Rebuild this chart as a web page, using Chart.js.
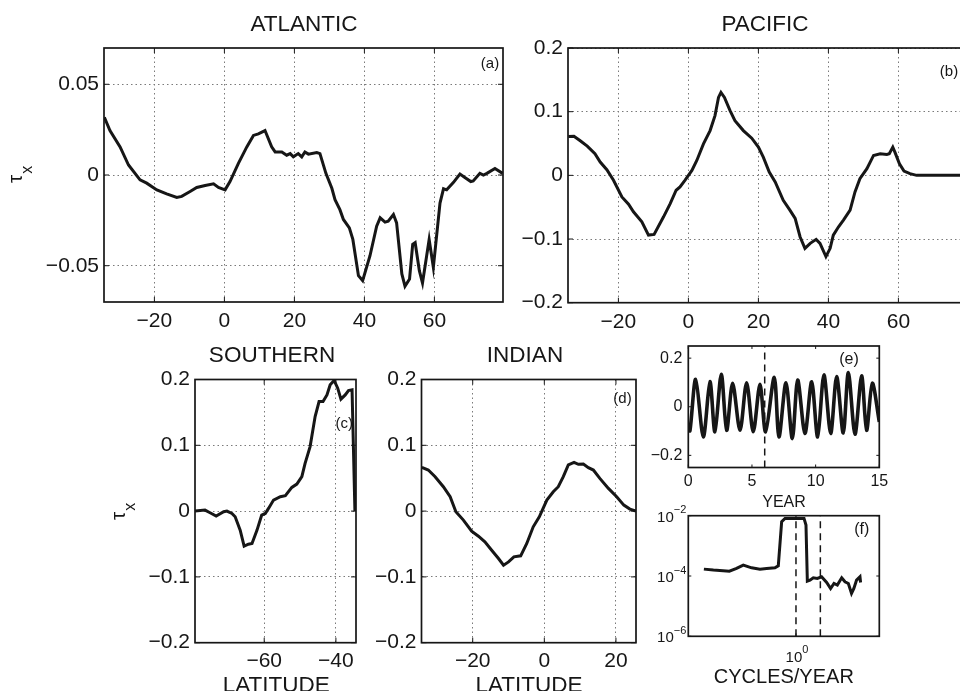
<!DOCTYPE html>
<html>
<head>
<meta charset="utf-8">
<script src="https://cdn.jsdelivr.net/npm/chart.js@4.4.1/dist/chart.umd.min.js"></script>
<style>
  html, body { margin: 0; padding: 0; background: #fff; width: 960px; height: 691px; overflow: hidden; }
  canvas { position: absolute; left: 0; top: 0; }
</style>
</head>
<body>
<canvas id="pa" width="960" height="691"></canvas>
<canvas id="pb" width="1000" height="691"></canvas>
<canvas id="pc" width="960" height="691"></canvas>
<canvas id="pd" width="960" height="691"></canvas>
<canvas id="pe" width="960" height="691"></canvas>
<canvas id="pf" width="960" height="691"></canvas>
<script>
// (a) Atlantic zonal wind stress vs latitude
const atlLat = [-34.3, -32.7, -29.8, -27.4, -24.1, -22.2, -19.3, -16.5, -13.6, -12.2,
  -9.8, -7.9, -5.5, -3.1, -1.7, 0.2, 1.6, 4.0, 6.4, 8.3,
  9.7, 11.6, 13.5, 14.5, 16.4, 17.8, 18.8, 19.7, 21.1, 22.1,
  23.0, 24.0, 26.4, 27.3, 29.0, 30.7, 31.6, 33.0, 34.0, 35.7,
  36.7, 38.3, 39.5, 41.6, 43.5, 44.5, 45.9, 46.8, 48.3, 49.2,
  50.7, 51.6, 52.9, 53.8, 54.5, 55.7, 56.6, 58.5, 59.7, 61.6,
  62.6, 63.5, 65.4, 67.3, 68.8, 70.4, 71.1, 73.0, 74.0, 75.0,
  77.3, 79.5];
const atlTau = [0.0318, 0.0245, 0.0155, 0.0055, -0.0027, -0.0045, -0.0082, -0.0104, -0.0124, -0.0118,
  -0.0091, -0.0069, -0.0058, -0.0049, -0.0069, -0.0082, -0.0036, 0.0064, 0.0155, 0.0218,
  0.0227, 0.0245, 0.0155, 0.0127, 0.0127, 0.0109, 0.0118, 0.0100, 0.0118, 0.0100,
  0.0127, 0.0115, 0.0124, 0.0118, 0.0009, -0.0073, -0.0136, -0.0191, -0.0245, -0.0291,
  -0.0355, -0.0555, -0.0582, -0.0445, -0.0282, -0.0236, -0.0260, -0.0255, -0.0218, -0.0264,
  -0.0545, -0.0613, -0.0573, -0.0382, -0.0373, -0.0527, -0.0595, -0.0355, -0.0509, -0.0155,
  -0.0076, -0.0082, -0.0042, 0.0005, -0.0015, -0.0036, -0.0033, 0.0009, 0.0000, 0.0009,
  0.0036, 0.0009];

// (b) Pacific
const pacLat = [-34.3, -32.7, -31.0, -28.9, -26.7, -25.2, -23.3, -21.4, -19.0, -17.1,
  -15.7, -13.3, -11.4, -9.8, -7.1, -5.2, -3.5, -2.4, -1.0, 1.0,
  2.4, 4.3, 6.2, 7.6, 8.6, 9.3, 10.3, 11.9, 13.3, 15.7,
  18.1, 20.0, 21.4, 23.1, 24.8, 27.1, 29.0, 30.5, 31.9, 33.3,
  34.8, 36.5, 37.6, 39.3, 40.5, 41.4, 42.9, 44.3, 46.2, 47.6,
  49.0, 51.0, 52.9, 54.8, 56.7, 57.4, 58.4, 59.0, 60.3, 61.6,
  63.3, 65.2, 79.6];
const pacTau = [0.061, 0.0615, 0.0547, 0.0458, 0.0339, 0.0208, 0.0089, -0.0078, -0.0339, -0.0453,
  -0.0573, -0.0729, -0.0938, -0.0927, -0.0651, -0.0443, -0.0234, -0.0182, -0.0078, 0.0078,
  0.0234, 0.0495, 0.0703, 0.0938, 0.1224, 0.1302, 0.1224, 0.1016, 0.0859, 0.0703,
  0.0583, 0.0443, 0.0286, 0.0052, -0.0104, -0.0391, -0.0547, -0.0677, -0.0964, -0.1146,
  -0.1068, -0.1005, -0.1068, -0.1276, -0.1146, -0.0938, -0.0807, -0.0703, -0.0547, -0.0260,
  -0.0052, 0.0104, 0.0313, 0.0339, 0.0328, 0.0339, 0.0443, 0.0365, 0.0182, 0.0068,
  0.0026, 0.0, 0.0];

// (c) Southern
const souLat = [-79.3, -76.5, -75.1, -73.4, -71.3, -70.4, -69.0, -68.1, -66.7, -65.6,
  -64.4, -63.4, -62.0, -60.7, -59.7, -58.8, -57.4, -55.5, -54.1, -52.3,
  -50.9, -49.5, -48.6, -47.2, -45.8, -44.7, -43.6, -42.5, -41.6, -40.5,
  -39.5, -38.6, -37.4, -36.5, -35.5, -34.7];
const souTau = [0.0, 0.0015, -0.0025, -0.0076, -0.0010, 0.0, -0.0036, -0.0086, -0.0289, -0.0533,
  -0.0503, -0.0492, -0.0289, -0.0061, -0.0036, 0.0041, 0.0168, 0.0218, 0.0234, 0.0360,
  0.0411, 0.0523, 0.0726, 0.0980, 0.1437, 0.1665, 0.1665, 0.1766, 0.1919, 0.1985,
  0.1868, 0.1701, 0.1766, 0.1832, 0.1843, 0.0];

// (d) Indian
const indLat = [-34.2, -32.4, -30.5, -28.2, -26.3, -24.7, -22.6, -20.3, -18.4, -16.6,
  -14.7, -12.8, -11.4, -10.0, -8.5, -6.6, -4.9, -3.1, -1.4, 0.7,
  2.5, 3.9, 5.3, 6.7, 8.3, 9.5, 10.9, 12.3, 13.7, 15.5,
  17.9, 20.2, 22.2, 23.9, 25.6];
const indTau = [0.0665, 0.0624, 0.0523, 0.0371, 0.0218, -0.0010, -0.0137, -0.0305, -0.0381, -0.0467,
  -0.0594, -0.0721, -0.0822, -0.0772, -0.0695, -0.0680, -0.0492, -0.0239, -0.0086, 0.0168,
  0.0294, 0.0371, 0.0523, 0.0701, 0.0741, 0.0711, 0.0716, 0.0660, 0.0624, 0.0497,
  0.0345, 0.0218, 0.0091, 0.0030, 0.0];

// (e) time series
const tsYear = [0, 0.13, 0.58, 1.18, 1.70, 2.09, 2.59, 3.01, 3.48, 4.06,
  4.58, 5.10, 5.63, 6.07, 6.75, 7.12, 7.67, 8.17, 8.59, 9.16,
  9.69, 10.16, 10.65, 11.18, 11.65, 12.17, 12.57, 13.09, 13.61, 14.0,
  14.45, 15.0];
const tsTau = [-0.090, -0.099, 0.113, -0.124, 0.103, -0.103, 0.134, -0.097, 0.097, -0.097,
  0.099, -0.103, 0.092, -0.103, 0.121, -0.124, 0.099, -0.131, 0.110, -0.110,
  0.103, -0.124, 0.131, -0.110, 0.124, -0.108, 0.141, -0.113, 0.127, -0.097,
  0.097, -0.062];
const tsMarkYear = [6];

// (f) spectrum
const specFreq = [0.216, 0.253, 0.330, 0.372, 0.416, 0.478, 0.549, 0.614, 0.705, 0.745,
  0.788, 0.833, 0.957, 1.143, 1.181, 1.208, 1.262, 1.334, 1.426, 1.531,
  1.666, 1.779, 1.882, 1.990, 2.140, 2.260, 2.390, 2.520, 2.620, 2.740,
  2.900, 2.930];
const specPow = [1.69e-4, 1.57e-4, 1.45e-4, 1.78e-4, 2.30e-4, 1.87e-4, 1.69e-4, 1.78e-4, 1.87e-4, 2.18e-4,
  6.32e-3, 8.15e-3, 8.15e-3, 8.15e-3, 4.90e-3, 6.75e-5, 7.29e-5, 8.71e-5, 8.28e-5, 9.40e-5,
  6.10e-5, 3.85e-5, 5.65e-5, 4.98e-5, 8.71e-5, 6.41e-5, 5.65e-5, 2.63e-5, 3.85e-5, 7.29e-5,
  9.40e-5, 6.10e-5];
const specMarks = [1, 1.5];

// tick values
const latTicksAP = [-20, 0, 20, 40, 60];
const latTicksS = [-60, -40];
const latTicksI = [-20, 0, 20];
const tauTicksA = [-0.05, 0, 0.05];
const tauTicksB = [-0.2, -0.1, 0, 0.1, 0.2];
const yearTicks = [0, 5, 10, 15];
const tsTicks = [-0.2, 0, 0.2];
const freqTicks = [1];
const powTicks = [1e-6, 1e-4, 1e-2];

const FONT = "'Liberation Sans', Arial, Helvetica, sans-serif";
const INK = '#161616';

function pts(xs, ys) { return xs.map((x, i) => ({ x: x, y: ys[i] })); }
function fmt(v) { return String(Math.round(v * 1000) / 1000).replace('-', '\u2212'); }
function expo(v) { return String(Math.round(Math.log10(v))).replace('-', '\u2212'); }

function drawText(ctx, it) {
  ctx.save();
  ctx.translate(it.x, it.y);
  if (it.rot) ctx.rotate(it.rot);
  ctx.fillStyle = INK;
  ctx.textBaseline = 'alphabetic';
  ctx.textAlign = 'left';
  const es = it.esize || Math.round(it.size * 0.72);
  ctx.font = it.size + 'px ' + FONT;
  const w1 = ctx.measureText(it.t).width;
  const extra = it.sup || it.sub;
  let w2 = 0;
  if (extra) { ctx.font = es + 'px ' + FONT; w2 = ctx.measureText(extra).width; }
  const tot = w1 + w2;
  const x0 = it.align === 'right' ? -tot : it.align === 'left' ? 0 : -tot / 2;
  ctx.font = it.size + 'px ' + FONT;
  ctx.fillText(it.t, x0, 0);
  if (extra) {
    ctx.font = es + 'px ' + FONT;
    ctx.fillText(extra, x0 + w1 + (it.gap || 0), it.dy);
  }
  ctx.restore();
}

// frame box, inward tick marks, labels
const frame = {
  id: 'frame',
  afterDraw(chart, args, o) {
    const { ctx, chartArea: a, scales } = chart;
    const L = o.tickLen || 4;
    ctx.save();
    ctx.strokeStyle = INK;
    ctx.lineWidth = 1;
    ctx.beginPath();
    scales.x.ticks.forEach(t => {
      const px = scales.x.getPixelForValue(t.value);
      ctx.moveTo(px, a.bottom); ctx.lineTo(px, a.bottom - L);
      ctx.moveTo(px, a.top); ctx.lineTo(px, a.top + L);
    });
    scales.y.ticks.forEach(t => {
      const py = scales.y.getPixelForValue(t.value);
      ctx.moveTo(a.left, py); ctx.lineTo(a.left + L, py);
      ctx.moveTo(a.right, py); ctx.lineTo(a.right - L, py);
    });
    ctx.stroke();
    ctx.lineWidth = 1.7;
    ctx.strokeRect(a.left, a.top, a.right - a.left, a.bottom - a.top);
    (o.texts || []).forEach(t => drawText(ctx, t));
    if (o.logLabels) {
      scales.y.ticks.forEach(t => {
        const py = scales.y.getPixelForValue(t.value);
        drawText(ctx, { t: '10', sup: expo(t.value), x: a.left - 2, y: py + 6, size: 15, esize: 11, dy: -8.5, align: 'right' });
      });
      scales.x.ticks.forEach(t => {
        const px = scales.x.getPixelForValue(t.value);
        drawText(ctx, { t: '10', sup: expo(t.value), x: px + 1, y: a.bottom + 25.5, size: 15, esize: 11, dy: -9, align: 'center' });
      });
    }
    ctx.restore();
  }
};

function axis(c, fit) {
  return {
    type: c.type || 'linear',
    min: c.min, max: c.max,
    afterBuildTicks: s => { s.ticks = c.ticks.map(v => ({ value: v })); },
    afterFit: fit,
    grid: { display: !!c.grid, color: '#7a7a7a', lineWidth: 1, drawTicks: false },
    border: { display: false, dash: [1.5, 3] },
    ticks: {
      display: c.labels !== false, color: INK, padding: c.pad,
      font: { family: FONT, size: c.size }, maxRotation: 0, autoSkip: false,
      callback: v => fmt(v)
    }
  };
}

function panel(id, p) {
  const cv = document.getElementById(id);
  const W = cv.width, H = cv.height;
  const [L, T, R, B] = p.plot;
  new Chart(cv, {
    type: 'line',
    data: { datasets: p.datasets },
    options: {
      responsive: false, animation: false, events: [],
      layout: { padding: { left: 0, top: T, right: W - R, bottom: 0 } },
      plugins: {
        legend: { display: false }, tooltip: { enabled: false },
        frame: { texts: p.texts, tickLen: p.tickLen, logLabels: p.logLabels }
      },
      scales: {
        x: axis(p.x, s => { s.height = H - B; s.paddingLeft = 0; s.paddingRight = 0; }),
        y: axis(p.y, s => { s.width = L; s.paddingTop = 0; s.paddingBottom = 0; })
      }
    },
    plugins: [frame]
  });
}

function curve(xs, ys, w, tension) {
  return { data: pts(xs, ys), borderColor: INK, borderWidth: w, pointRadius: 0, tension: tension || 0, fill: false };
}
function marks(xs, y0, y1) {
  return xs.map(x => ({ data: [{ x: x, y: y0 }, { x: x, y: y1 }], borderColor: INK, borderWidth: 1.5, borderDash: [7, 5], pointRadius: 0, fill: false }));
}

const BIG = 22.5, TICK = 21, TAG = 15;

panel('pa', {
  plot: [104, 48, 503, 302], tickLen: 5,
  x: { min: -34.4, max: 79.6, ticks: latTicksAP, grid: true, size: TICK, pad: 7 },
  y: { min: -0.07, max: 0.07, ticks: tauTicksA, grid: true, size: TICK, pad: 5 },
  datasets: [curve(atlLat, atlTau, 3)],
  texts: [
    { t: 'ATLANTIC', x: 304, y: 30.7, size: BIG },
    { t: '(a)', x: 490, y: 68, size: TAG },
    { t: '\u03c4', sub: 'x', x: 21.7, y: 183, size: 21, esize: 16, dy: 10, gap: 1, align: 'left', rot: -Math.PI / 2 }
  ]
});

panel('pb', {
  plot: [568, 48, 967, 302.7], tickLen: 5,
  x: { min: -34.4, max: 79.6, ticks: latTicksAP, grid: true, size: TICK, pad: 7 },
  y: { min: -0.2, max: 0.2, ticks: tauTicksB, grid: true, size: TICK, pad: 5 },
  datasets: [curve(pacLat, pacTau, 3)],
  texts: [
    { t: 'PACIFIC', x: 765, y: 30.7, size: BIG },
    { t: '(b)', x: 949, y: 76, size: TAG }
  ]
});

panel('pc', {
  plot: [195, 379.5, 356, 642.7], tickLen: 5,
  x: { min: -79.3, max: -34.4, ticks: latTicksS, grid: true, size: TICK, pad: 6 },
  y: { min: -0.2, max: 0.2, ticks: tauTicksB, grid: true, size: TICK, pad: 5 },
  datasets: [curve(souLat, souTau, 3)],
  texts: [
    { t: 'SOUTHERN', x: 272, y: 362.3, size: BIG },
    { t: '(c)', x: 344.3, y: 428, size: TAG },
    { t: 'LATITUDE', x: 276.3, y: 692, size: BIG },
    { t: '\u03c4', sub: 'x', x: 125, y: 520, size: 21, esize: 16, dy: 10, gap: 1, align: 'left', rot: -Math.PI / 2 }
  ]
});

panel('pd', {
  plot: [421.5, 379.5, 636, 642.7], tickLen: 5,
  x: { min: -34.3, max: 25.6, ticks: latTicksI, grid: true, size: TICK, pad: 6 },
  y: { min: -0.2, max: 0.2, ticks: tauTicksB, grid: true, size: TICK, pad: 5 },
  datasets: [curve(indLat, indTau, 3)],
  texts: [
    { t: 'INDIAN', x: 525, y: 362.3, size: BIG },
    { t: '(d)', x: 622.5, y: 403, size: TAG },
    { t: 'LATITUDE', x: 529, y: 692, size: BIG }
  ]
});

panel('pe', {
  plot: [688.3, 346, 879.3, 467.5], tickLen: 3,
  x: { min: 0, max: 15, ticks: yearTicks, size: 16, pad: 4 },
  y: { min: -0.25, max: 0.25, ticks: tsTicks, size: 16, pad: 6 },
  datasets: [curve(tsYear, tsTau, 3.6, 0.3)].concat(marks(tsMarkYear, -0.25, 0.25)),
  texts: [
    { t: '(e)', x: 849, y: 364, size: 16 },
    { t: 'YEAR', x: 784, y: 506.7, size: 16 }
  ]
});

panel('pf', {
  plot: [688.3, 515.7, 879.3, 636.3], tickLen: 3, logLabels: true,
  x: { type: 'logarithmic', min: 1 / 6, max: 4, ticks: freqTicks, size: 14, pad: 5, labels: false },
  y: { type: 'logarithmic', min: 1e-6, max: 1e-2, ticks: powTicks, size: 14, pad: 5, labels: false },
  datasets: [curve(specFreq, specPow, 3)].concat(marks(specMarks, 1e-6, 1e-2)),
  texts: [
    { t: '(f)', x: 861.7, y: 534, size: 16 },
    { t: 'CYCLES/YEAR', x: 783.8, y: 683, size: 20 }
  ]
});
</script>
</body>
</html>
